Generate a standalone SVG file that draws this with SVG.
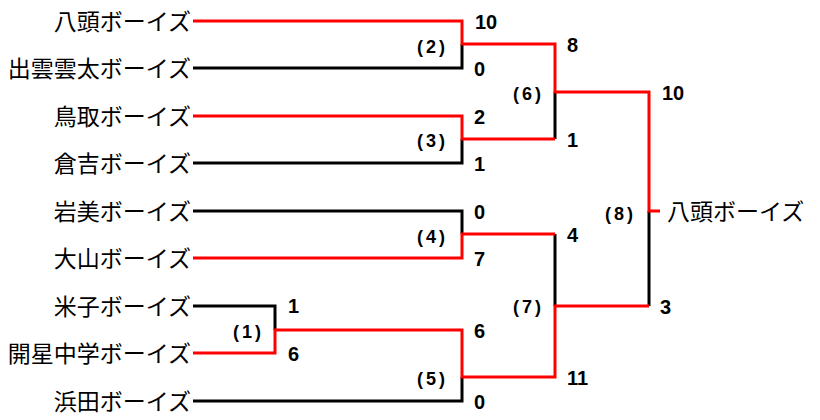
<svg xmlns="http://www.w3.org/2000/svg" width="820" height="420" viewBox="0 0 820 420">
<style>
.team{font-family:"Noto Sans CJK JP","Liberation Sans",sans-serif;font-size:23px;fill:#000;}
.score{font-family:"Liberation Sans",Arial,sans-serif;font-size:20px;font-weight:bold;fill:#000;}
.mno{font-family:"Liberation Sans",Arial,sans-serif;font-size:18px;font-weight:bold;fill:#000;letter-spacing:3px;}
.lose{fill:none;stroke:#000;stroke-width:3;stroke-linejoin:miter;stroke-linecap:butt;}
.win{fill:none;stroke:#ff0000;stroke-width:3;stroke-linejoin:miter;stroke-linecap:butt;}
</style>
<rect width="820" height="420" fill="#fff"/>
<g id="teams" class="team" text-anchor="end">
<g id="team-yazu"><text x="191" y="30">八頭ボーイズ</text></g>
<g id="team-izumo"><text x="191" y="77">出雲雲太ボーイズ</text></g>
<g id="team-tottori"><text x="191" y="125">鳥取ボーイズ</text></g>
<g id="team-kurayoshi"><text x="191" y="172">倉吉ボーイズ</text></g>
<g id="team-iwami"><text x="191" y="220">岩美ボーイズ</text></g>
<g id="team-daisen"><text x="191" y="267">大山ボーイズ</text></g>
<g id="team-yonago"><text x="191" y="315">米子ボーイズ</text></g>
<g id="team-kaisei"><text x="191" y="362">開星中学ボーイズ</text></g>
<g id="team-hamada"><text x="191" y="410">浜田ボーイズ</text></g>
</g>
<g id="connectors">
<path class="lose" d="M193,68 H462 V44"/>
<path class="lose" d="M193,163 H462 V139"/>
<path class="lose" d="M555,139 V92"/>
<path class="lose" d="M193,211 H462 V234"/>
<path class="lose" d="M555,234 V306"/>
<path class="lose" d="M193,306 H275 V330"/>
<path class="lose" d="M193,401 H462 V377"/>
<path class="lose" d="M649,306 V211"/>
<path class="win" d="M193,21 H462 V44 H555 V92 H649 V211 H660"/>
<path class="win" d="M193,116 H462 V139 H555"/>
<path class="win" d="M193,258 H462 V234 H555"/>
<path class="win" d="M193,353 H275 V330 H462 V377 H555 V306 H649"/>
</g>
<g id="match-1"><text class="mno" x="233" y="338">(1)</text><text class="score" x="288" y="313">1</text><text class="score" x="288" y="361">6</text></g>
<g id="match-2"><text class="mno" x="417" y="53">(2)</text><text class="score" x="475" y="29">10</text><text class="score" x="474" y="76">0</text></g>
<g id="match-3"><text class="mno" x="417" y="147">(3)</text><text class="score" x="474" y="124">2</text><text class="score" x="474" y="171">1</text></g>
<g id="match-4"><text class="mno" x="417" y="243">(4)</text><text class="score" x="474" y="219">0</text><text class="score" x="474" y="266">7</text></g>
<g id="match-5"><text class="mno" x="417" y="385">(5)</text><text class="score" x="474" y="338">6</text><text class="score" x="474" y="409">0</text></g>
<g id="match-6"><text class="mno" x="513" y="100">(6)</text><text class="score" x="567" y="52">8</text><text class="score" x="567" y="147">1</text></g>
<g id="match-7"><text class="mno" x="513" y="313">(7)</text><text class="score" x="567" y="242">4</text><text class="score" x="567" y="385">11</text></g>
<g id="match-8"><text class="mno" x="605" y="220">(8)</text><text class="score" x="662" y="100">10</text><text class="score" x="660" y="314">3</text></g>
<g id="champion"><text class="team" x="667" y="220">八頭ボーイズ</text></g>
</svg>
